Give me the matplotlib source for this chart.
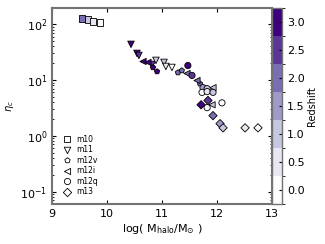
import numpy as np
import matplotlib.pyplot as plt
from matplotlib.colors import BoundaryNorm

# halo mass (log), eta_c and redshift for each simulation
m10_x = [9.545, 9.655, 9.745, 9.873]
m10_y = [128, 123, 113, 109]
m10_z = [2.0, 1.0, 0.5, 0.0]

m11_x = [10.436, 10.545, 10.58, 10.82, 10.89, 11.036, 11.07, 11.18]
m11_y = [43.6, 30.0, 27.6, 19.0, 22.5, 20.7, 17.5, 16.8]
m11_z = [3.0, 3.0, 2.5, 2.5, 1.0, 1.0, 0.5, 0.0]

m12v_x = [10.836, 10.91, 11.29, 11.36, 11.69]
m12v_y = [16.8, 14.2, 13.6, 14.8, 8.6]
m12v_z = [3.0, 3.0, 2.0, 2.0, 2.0]

m12i_x = [10.655, 10.745, 11.455, 11.636, 11.927, 11.91]
m12i_y = [21.5, 20.7, 13.1, 9.8, 7.3, 3.6]
m12i_z = [3.0, 3.0, 2.0, 2.0, 1.0, 1.0]

m12q_x = [11.47, 11.545, 11.745, 11.82, 11.727, 11.82, 11.927, 11.82, 12.09]
m12q_y = [18.2, 12.1, 7.3, 7.0, 6.0, 6.2, 6.0, 3.2, 3.9]
m12q_z = [3.0, 2.5, 1.5, 1.0, 0.0, 0.5, 1.0, 0.0, 0.0]

m13_x = [11.71, 11.836, 11.927, 12.055, 12.11, 12.51, 12.745]
m13_y = [3.6, 4.3, 2.3, 1.65, 1.39, 1.39, 1.39]
m13_z = [3.0, 2.5, 2.0, 1.5, 1.0, 0.5, 0.0]

sims = [
    ("m10", "s", 24, m10_x, m10_y, m10_z),
    ("m11", "v", 22, m11_x, m11_y, m11_z),
    ("m12v", "p", 16, m12v_x, m12v_y, m12v_z),
    ("m12i", "<", 20, m12i_x, m12i_y, m12i_z),
    ("m12q", "o", 20, m12q_x, m12q_y, m12q_z),
    ("m13", "D", 18, m13_x, m13_y, m13_z),
]

cmap = plt.get_cmap("Purples")
norm = BoundaryNorm(np.arange(-0.25, 3.3, 0.5), cmap.N)

fig = plt.figure(figsize=(3.25, 2.44), dpi=100)
ax = fig.add_axes([0.16, 0.164, 0.677, 0.803])
cax = fig.add_axes([0.837, 0.164, 0.031, 0.803])

for name, mk, s, x, y, z in sims:
    sc = ax.scatter(x, y, c=z, cmap=cmap, norm=norm, marker=mk, s=s,
                    edgecolors="k", linewidths=0.6)
    # white legend handle
    ax.scatter([], [], c="w", marker=mk, s=s, edgecolors="k",
               linewidths=0.6, label=name)

ax.set_yscale("log")
ax.set_xlim(9, 13)
ax.set_ylim(0.06, 195)
ax.set_xticks([9, 10, 11, 12, 13])
ax.tick_params(which="both", direction="in", top=True, right=True,
               labelsize=8)
ax.tick_params(which="major", length=3)
ax.tick_params(which="minor", length=1.5)
for sp in ax.spines.values():
    sp.set_color("0.45")
    sp.set_linewidth(1.5)

ax.set_xlabel(r"log( M$_{\rm halo}$/M$_{\odot}$ )", fontsize=8, labelpad=2)
ax.set_ylabel(r"$\eta_c$", fontsize=7, labelpad=3)

leg = ax.legend(loc="lower left", frameon=False, fontsize=5.5,
                handletextpad=0.2, labelspacing=0.2, borderaxespad=0.6,
                scatteryoffsets=[0.5])

cb = fig.colorbar(sc, cax=cax, ticks=[0, 0.5, 1.0, 1.5, 2.0, 2.5, 3.0])
cb.set_label("Redshift", fontsize=7, labelpad=2)
cb.ax.tick_params(labelsize=8, direction="in", length=2)
cb.outline.set_edgecolor("0.45")
cb.outline.set_linewidth(1.0)

fig.savefig("out.png", dpi=100)
